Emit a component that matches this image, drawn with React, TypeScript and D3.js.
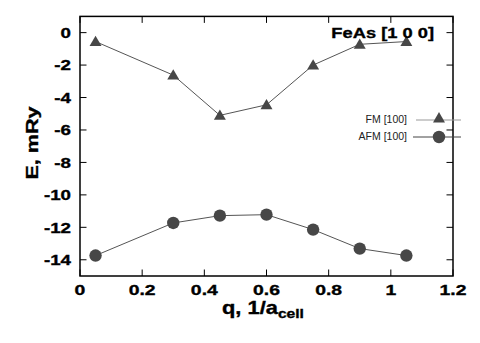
import React from "react";
import * as d3 from "d3";

const qValues = [0.05, 0.3, 0.45, 0.6, 0.75, 0.9, 1.05];
const fmEnergy = [-0.55, -2.62, -5.1, -4.45, -2.0, -0.72, -0.55];
const afmEnergy = [-13.74, -11.73, -11.28, -11.22, -12.14, -13.31, -13.74];
const xTicks = [0, 0.2, 0.4, 0.6, 0.8, 1, 1.2];
const yTicks = [0, -2, -4, -6, -8, -10, -12, -14];
const seriesNames = ["FM [100]", "AFM [100]"];
const title = "FeAs [1 0 0]";

const W = 480;
const H = 343;
const left = 80;
const right = 453;
const top = 16.4;
const bottom = 276;
const font = "'Liberation Sans', Arial, Helvetica, sans-serif";
const markColor = "#474747";

const App = () => {
  const x = d3.scaleLinear().domain([0, 1.2]).range([left, right]);
  const y = d3.scaleLinear().domain([-15, 1]).range([bottom, top]);

  const line = d3
    .line<number>()
    .x((d, i) => x(qValues[i]))
    .y((d) => y(d));

  const tri = d3.symbol().type(d3.symbolTriangle).size(62)();
  const tickLen = 6.5;
  // heavier bold, like the reference's printed labels
  const heavy = { stroke: "#000", strokeWidth: 0.35 };

  return (
    <svg
      width={W}
      height={H}
      style={{ position: "absolute", left: 0, top: 0, background: "#fff" }}
    >
      {/* data lines */}
      <path d={line(fmEnergy) || ""} fill="none" stroke="#555" strokeWidth={1} />
      <path d={line(afmEnergy) || ""} fill="none" stroke="#555" strokeWidth={1} />
      {fmEnergy.map((v, i) => (
        <path
          key={"fm" + i}
          d={tri || ""}
          transform={`translate(${x(qValues[i])},${y(v) + 1})`}
          fill={markColor}
        />
      ))}
      {afmEnergy.map((v, i) => (
        <circle key={"afm" + i} cx={x(qValues[i])} cy={y(v)} r={6.2} fill={markColor} />
      ))}

      {/* ticks on all four sides */}
      {xTicks.map((t) => (
        <g key={"xt" + t}>
          <line x1={x(t)} x2={x(t)} y1={bottom} y2={bottom - tickLen} stroke="#000" />
          <line x1={x(t)} x2={x(t)} y1={top} y2={top + tickLen} stroke="#000" />
          <text
            transform={`translate(${x(t)},${bottom + 19}) scale(1.25,1)`}
            textAnchor="middle"
            fontFamily={font}
            fontWeight="bold"
            fontSize={15.5}
            {...heavy}
          >
            {t}
          </text>
        </g>
      ))}
      {yTicks.map((t) => (
        <g key={"yt" + t}>
          <line x1={left} x2={left + tickLen} y1={y(t)} y2={y(t)} stroke="#000" />
          <line x1={right} x2={right - tickLen} y1={y(t)} y2={y(t)} stroke="#000" />
          <text
            transform={`translate(${left - 9},${y(t) + 5.3}) scale(1.25,1)`}
            textAnchor="end"
            fontFamily={font}
            fontWeight="bold"
            fontSize={15}
            {...heavy}
          >
            {t}
          </text>
        </g>
      ))}

      <rect
        x={left}
        y={top}
        width={right - left}
        height={bottom - top}
        fill="none"
        stroke="#000"
        strokeWidth={1.5}
      />

      {/* title */}
      <text
        transform={`translate(434,38) scale(1.22,1)`}
        textAnchor="end"
        fontFamily={font}
        fontWeight="bold"
        fontSize={15}
        {...heavy}
      >
        {title}
      </text>

      {/* legend */}
      {seriesNames.map((name, i) => {
        const ly = 119 + i * 17;
        return (
          <g key={name}>
            <text
              x={407}
              y={ly + 3.5}
              textAnchor="end"
              fontFamily={font}
              fontSize={10.5}
              fill="#222"
            >
              {name}
            </text>
            <line
              x1={i === 0 ? 416 : 413}
              x2={461}
              y1={ly + 1}
              y2={ly + 1}
              stroke={i === 0 ? "#999" : "#444"}
              strokeWidth={1}
            />
            {i === 0 ? (
              <path d={tri || ""} transform={`translate(439,${ly})`} fill={markColor} />
            ) : (
              <circle cx={439} cy={ly + 1} r={6.2} fill={markColor} />
            )}
          </g>
        );
      })}

      {/* axis labels */}
      <text
        transform={`translate(222,313.5) scale(1.25,1)`}
        fontFamily={font}
        fontWeight="bold"
        fontSize={17.5}
        {...heavy}
      >
        q, 1/a
        <tspan fontSize={12.5} dy={4.5}>
          cell
        </tspan>
      </text>
      <text
        transform={`translate(38,143) rotate(-90) scale(1.35,1)`}
        textAnchor="middle"
        fontFamily={font}
        fontWeight="bold"
        fontSize={16}
        {...heavy}
      >
        E, mRy
      </text>
    </svg>
  );
};

export default App;
